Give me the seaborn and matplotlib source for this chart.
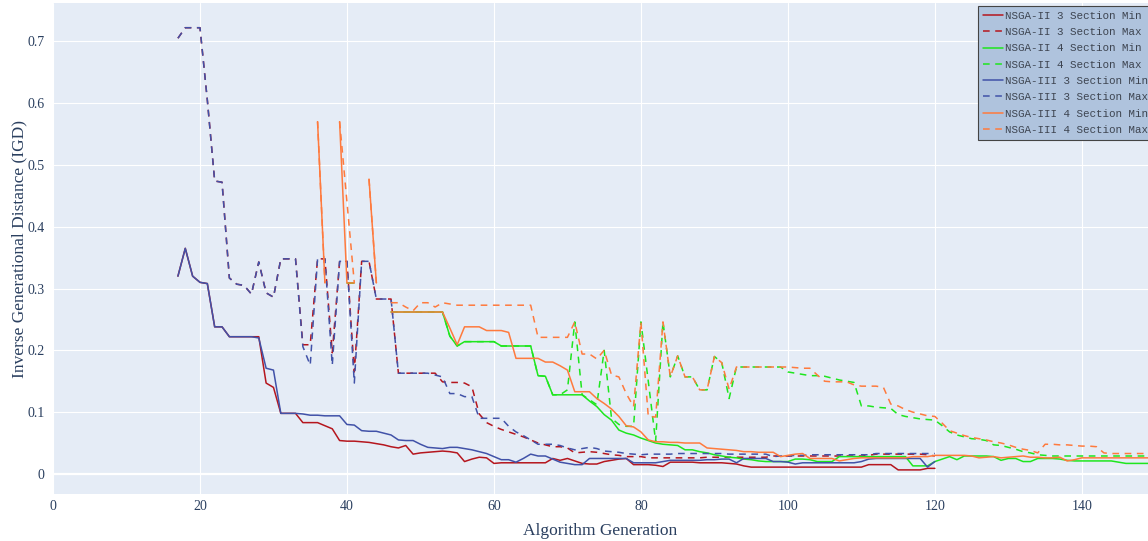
import numpy as np
import pandas as pd
import matplotlib
matplotlib.use("Agg")
import matplotlib.pyplot as plt
import seaborn as sns

nan = np.nan

# Generations covered by each problem size
gen_3 = np.arange(17, 121)
gen_4 = np.arange(36, 150)

# IGD per generation, 3-section problem
nsga2_3_min = [
    0.320, 0.365, 0.320, 0.310, 0.308, 0.238, 0.238, 0.222, 0.222, 0.222,
    0.222, 0.222, 0.147, 0.140, 0.098, 0.098, 0.098, 0.083, 0.083, 0.083,
    0.078, 0.073, 0.054, 0.053, 0.053, 0.052, 0.051, 0.049, 0.047, 0.044,
    0.042, 0.046, 0.032, 0.034, 0.035, 0.036, 0.037, 0.036, 0.034, 0.020,
    0.024, 0.027, 0.026, 0.017, 0.018, 0.018, 0.018, 0.018, 0.018, 0.018,
    0.018, 0.025, 0.022, 0.025, 0.021, 0.017, 0.016, 0.016, 0.020, 0.022,
    0.024, 0.025, 0.015, 0.015, 0.015, 0.014, 0.012, 0.019, 0.019, 0.019,
    0.019, 0.018, 0.018, 0.018, 0.018, 0.017, 0.016, 0.013, 0.011, 0.011,
    0.011, 0.011, 0.011, 0.011, 0.011, 0.011, 0.011, 0.011, 0.011, 0.011,
    0.011, 0.011, 0.011, 0.011, 0.015, 0.015, 0.015, 0.015, 0.0065, 0.0065,
    0.0065, 0.0065, 0.009, 0.009,
]
nsga2_3_max = [
    0.705, 0.722, 0.722, 0.722, 0.605, 0.474, 0.472, 0.317, 0.307, 0.305,
    0.291, 0.343, 0.293, 0.286, 0.348, 0.348, 0.348, 0.209, 0.209, 0.348,
    0.348, 0.196, 0.344, 0.344, 0.165, 0.344, 0.344, 0.283, 0.283, 0.283,
    0.163, 0.163, 0.163, 0.163, 0.163, 0.163, 0.149, 0.148, 0.148, 0.147,
    0.141, 0.097, 0.083, 0.077, 0.072, 0.068, 0.064, 0.060, 0.055, 0.050,
    0.047, 0.044, 0.044, 0.042, 0.034, 0.035, 0.036, 0.035, 0.033, 0.031,
    0.030, 0.028, 0.028, 0.028, 0.026, 0.026, 0.026, 0.026, 0.026, 0.026,
    0.026, 0.026, 0.027, 0.027, 0.027, 0.027, 0.027, 0.027, 0.027, 0.027,
    0.027, 0.029, 0.029, 0.029, 0.029, 0.029, 0.029, 0.029, 0.029, 0.029,
    0.029, 0.029, 0.029, 0.029, 0.030, 0.032, 0.032, 0.032, 0.032, 0.032,
    0.032, 0.032, 0.031, 0.029,
]
nsga3_3_min = [
    0.320, 0.365, 0.320, 0.310, 0.308, 0.238, 0.238, 0.222, 0.222, 0.222,
    0.222, 0.220, 0.171, 0.168, 0.098, 0.098, 0.098, 0.097, 0.095, 0.095,
    0.094, 0.094, 0.094, 0.080, 0.079, 0.070, 0.069, 0.069, 0.066, 0.063,
    0.055, 0.054, 0.054, 0.048, 0.043, 0.042, 0.041, 0.043, 0.043, 0.041,
    0.039, 0.036, 0.033, 0.028, 0.023, 0.023, 0.019, 0.025, 0.032, 0.029,
    0.029, 0.024, 0.019, 0.017, 0.015, 0.015, 0.025, 0.025, 0.025, 0.025,
    0.025, 0.025, 0.018, 0.018, 0.018, 0.018, 0.020, 0.022, 0.022, 0.022,
    0.022, 0.022, 0.023, 0.023, 0.024, 0.024, 0.018, 0.025, 0.025, 0.025,
    0.025, 0.020, 0.020, 0.019, 0.016, 0.018, 0.018, 0.018, 0.018, 0.018,
    0.018, 0.018, 0.018, 0.020, 0.024, 0.025, 0.025, 0.025, 0.025, 0.025,
    0.025, 0.025, 0.011, 0.020,
]
nsga3_3_max = [
    0.705, 0.722, 0.722, 0.722, 0.605, 0.474, 0.472, 0.317, 0.307, 0.305,
    0.291, 0.343, 0.293, 0.286, 0.348, 0.348, 0.348, 0.206, 0.176, 0.348,
    0.348, 0.176, 0.344, 0.344, 0.147, 0.344, 0.344, 0.283, 0.283, 0.283,
    0.163, 0.163, 0.163, 0.163, 0.163, 0.160, 0.157, 0.130, 0.130, 0.125,
    0.125, 0.090, 0.090, 0.090, 0.090, 0.077, 0.068, 0.062, 0.055, 0.048,
    0.048, 0.048, 0.046, 0.042, 0.039, 0.041, 0.043, 0.041, 0.037, 0.036,
    0.035, 0.033, 0.032, 0.031, 0.032, 0.032, 0.032, 0.032, 0.033, 0.033,
    0.033, 0.033, 0.033, 0.033, 0.033, 0.032, 0.032, 0.032, 0.032, 0.032,
    0.032, 0.028, 0.029, 0.029, 0.030, 0.030, 0.031, 0.031, 0.031, 0.031,
    0.031, 0.031, 0.031, 0.031, 0.031, 0.033, 0.033, 0.033, 0.033, 0.033,
    0.033, 0.033, 0.033, 0.033,
]

# IGD per generation, 4-section problem (nan = no feasible front that generation)
nsga2_4_min = [
    nan, nan, nan, nan, 0.309, 0.309, nan, nan, nan, nan,
    0.262, 0.262, 0.262, 0.262, 0.262, 0.262, 0.262, 0.262, 0.223, 0.207,
    0.214, 0.214, 0.214, 0.214, 0.214, 0.207, 0.207, 0.207, 0.207, 0.207,
    0.159, 0.158, 0.128, 0.128, 0.128, 0.128, 0.128, 0.118, 0.109, 0.096,
    0.087, 0.071, 0.066, 0.063, 0.058, 0.054, 0.050, 0.048, 0.047, 0.046,
    0.039, 0.039, 0.036, 0.034, 0.031, 0.029, 0.027, 0.026, 0.024, 0.023,
    0.021, 0.020, 0.020, 0.020, 0.020, 0.024, 0.024, 0.023, 0.020, 0.020,
    0.020, 0.028, 0.028, 0.028, 0.028, 0.028, 0.028, 0.028, 0.028, 0.028,
    0.028, 0.013, 0.013, 0.013, 0.020, 0.024, 0.028, 0.023, 0.029, 0.029,
    0.029, 0.029, 0.028, 0.022, 0.025, 0.025, 0.020, 0.020, 0.025, 0.025,
    0.025, 0.024, 0.022, 0.021, 0.021, 0.021, 0.021, 0.021, 0.021, 0.019,
    0.017, 0.017, 0.017, 0.017,
]
nsga2_4_max = [
    nan, nan, nan, nan, 0.309, 0.309, nan, nan, nan, nan,
    0.262, 0.262, 0.262, 0.262, 0.262, 0.262, 0.262, 0.262, 0.223, 0.207,
    0.214, 0.214, 0.214, 0.214, 0.214, 0.207, 0.207, 0.207, 0.207, 0.207,
    0.159, 0.158, 0.128, 0.128, 0.136, 0.246, 0.128, 0.120, 0.112, 0.200,
    0.090, 0.080, 0.077, 0.077, 0.246, 0.150, 0.053, 0.246, 0.157, 0.191,
    0.157, 0.157, 0.136, 0.136, 0.190, 0.180, 0.122, 0.173, 0.173, 0.173,
    0.173, 0.173, 0.173, 0.173, 0.165, 0.163, 0.161, 0.159, 0.159, 0.158,
    0.155, 0.152, 0.150, 0.148, 0.110, 0.110, 0.108, 0.107, 0.106, 0.096,
    0.093, 0.091, 0.089, 0.088, 0.087, 0.078, 0.068, 0.063, 0.060, 0.057,
    0.056, 0.054, 0.047, 0.046, 0.043, 0.040, 0.036, 0.034, 0.031, 0.030,
    0.029, 0.029, 0.029, 0.029, 0.029, 0.029, 0.029, 0.029, 0.029, 0.029,
    0.029, 0.029, 0.029, 0.029,
]
nsga3_4_min = [
    0.570, 0.309, nan, 0.570, 0.309, 0.309, nan, 0.477, 0.309, nan,
    0.262, 0.262, 0.262, 0.262, 0.262, 0.262, 0.262, 0.262, 0.236, 0.209,
    0.238, 0.238, 0.238, 0.232, 0.232, 0.232, 0.229, 0.187, 0.187, 0.187,
    0.187, 0.181, 0.181, 0.175, 0.168, 0.133, 0.133, 0.133, 0.122, 0.114,
    0.105, 0.093, 0.078, 0.076, 0.068, 0.055, 0.052, 0.052, 0.051, 0.051,
    0.050, 0.050, 0.050, 0.042, 0.041, 0.040, 0.039, 0.038, 0.036, 0.036,
    0.035, 0.035, 0.035, 0.028, 0.030, 0.032, 0.033, 0.025, 0.025, 0.025,
    0.025, 0.021, 0.023, 0.025, 0.026, 0.026, 0.026, 0.026, 0.026, 0.026,
    0.026, 0.028, 0.028, 0.028, 0.030, 0.030, 0.030, 0.030, 0.030, 0.029,
    0.026, 0.027, 0.028, 0.026, 0.027, 0.028, 0.029, 0.027, 0.027, 0.026,
    0.026, 0.027, 0.021, 0.023, 0.026, 0.026, 0.026, 0.026, 0.026, 0.026,
    0.026, 0.026, 0.026, 0.026,
]
nsga3_4_max = [
    0.570, 0.309, nan, 0.570, 0.440, 0.309, nan, 0.477, 0.309, nan,
    0.277, 0.277, 0.270, 0.264, 0.277, 0.277, 0.270, 0.277, 0.275, 0.273,
    0.273, 0.273, 0.273, 0.273, 0.273, 0.273, 0.273, 0.273, 0.273, 0.273,
    0.221, 0.221, 0.221, 0.221, 0.221, 0.246, 0.194, 0.194, 0.186, 0.200,
    0.160, 0.157, 0.130, 0.109, 0.246, 0.093, 0.092, 0.246, 0.157, 0.191,
    0.157, 0.157, 0.136, 0.136, 0.190, 0.180, 0.137, 0.173, 0.173, 0.173,
    0.173, 0.173, 0.173, 0.173, 0.173, 0.172, 0.171, 0.171, 0.160, 0.150,
    0.149, 0.149, 0.149, 0.144, 0.142, 0.142, 0.142, 0.140, 0.113, 0.110,
    0.104, 0.100, 0.097, 0.094, 0.093, 0.082, 0.070, 0.066, 0.062, 0.059,
    0.057, 0.055, 0.052, 0.050, 0.047, 0.043, 0.040, 0.038, 0.034, 0.048,
    0.048, 0.047, 0.047, 0.046, 0.045, 0.045, 0.044, 0.034, 0.033, 0.033,
    0.033, 0.033, 0.033, 0.033,
]

labels = [
    "NSGA-II 3 Section Min", "NSGA-II 3 Section Max",
    "NSGA-II 4 Section Min", "NSGA-II 4 Section Max",
    "NSGA-III 3 Section Min", "NSGA-III 3 Section Max",
    "NSGA-III 4 Section Min", "NSGA-III 4 Section Max",
]
x_ticks = [0, 20, 40, 60, 80, 100, 120, 140]
y_ticks = [0, 0.1, 0.2, 0.3, 0.4, 0.5, 0.6, 0.7]
y_tick_labels = ["0", "0.1", "0.2", "0.3", "0.4", "0.5", "0.6", "0.7"]

RED = "#B5161E"
GREEN = "#1EE61E"
BLUE = "#4152A8"
ORANGE = "#FF7A3D"
TEXT = "#2a3f5f"
SOLID = "-"
DASH = (0, (4.8, 4.0))
LW = 1.1

traces = [
    (gen_3, nsga2_3_min, RED, SOLID),
    (gen_3, nsga2_3_max, RED, DASH),
    (gen_4, nsga2_4_min, GREEN, SOLID),
    (gen_4, nsga2_4_max, GREEN, DASH),
    (gen_3, nsga3_3_min, BLUE, SOLID),
    (gen_3, nsga3_3_max, BLUE, DASH),
    (gen_4, nsga3_4_min, ORANGE, SOLID),
    (gen_4, nsga3_4_max, ORANGE, DASH),
]

sns.set_theme(style="darkgrid")
plt.rcParams["font.family"] = ["Liberation Serif", "DejaVu Serif"]
plt.rcParams["lines.scale_dashes"] = False

fig = plt.figure(figsize=(11.48, 5.41), dpi=100)
fig.patch.set_facecolor("white")
ax = fig.add_axes([53 / 1148, 47 / 541, 1095 / 1148, 491 / 541])
ax.set_facecolor("#E5ECF6")
ax.set_axisbelow(True)
ax.grid(True, color="white", linewidth=0.8)
ax.axhline(0, color="white", linewidth=1.6, zorder=1)

handles = []
for gens, vals, color, ls in traces:
    y = np.asarray(vals, dtype=float)
    ok = ~np.isnan(y)
    df = pd.DataFrame({
        "gen": gens[ok],
        "igd": y[ok],
        "seg": np.cumsum(~ok)[ok],
    })
    n_before = len(ax.lines)
    sns.lineplot(data=df, x="gen", y="igd", units="seg", estimator=None,
                 color=color, linewidth=LW, linestyle=ls, legend=False, ax=ax)
    handles.append(ax.lines[n_before])

ax.set_xlim(0, 149)
ax.set_ylim(-0.0325, 0.762)
ax.set_xticks(x_ticks)
ax.set_yticks(y_ticks)
ax.set_yticklabels(y_tick_labels)
ax.tick_params(axis="both", length=0, labelsize=10, colors=TEXT)
ax.tick_params(axis="y", pad=6)
ax.tick_params(axis="x", pad=4)
for s in ax.spines.values():
    s.set_visible(False)

ax.set_xlabel("Algorithm Generation", fontsize=12.5, color=TEXT)
ax.set_ylabel("Inverse Generational Distance (IGD)", fontsize=12.5, color=TEXT)
ax.xaxis.set_label_coords(0.5, -0.059)
ax.yaxis.set_label_coords(-0.0237, 0.5)

leg = ax.legend(handles, labels, loc="upper left",
                bbox_to_anchor=((978 - 53) / 1095, (494 - 6) / 491),
                borderaxespad=0, frameon=True, fancybox=False,
                prop={"family": ["Liberation Mono", "DejaVu Sans Mono"], "size": 7.8},
                handlelength=1.85, handletextpad=0.15, labelspacing=0.58,
                borderpad=0.45)
frame = leg.get_frame()
frame.set_facecolor("#AFC3DD")
frame.set_edgecolor("#444444")
frame.set_linewidth(0.8)
frame.set_alpha(1)
for t in leg.get_texts():
    t.set_color("#3d4450")

fig.savefig("out.png", dpi=100)
